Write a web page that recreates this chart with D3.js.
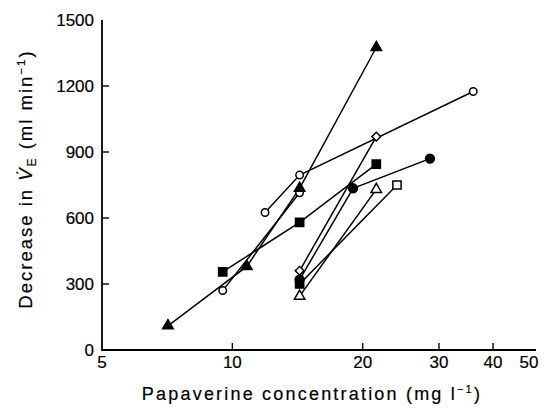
<!DOCTYPE html>
<html>
<head>
<meta charset="utf-8">
<script src="https://cdn.jsdelivr.net/npm/d3@7"></script>
<style>
  body { margin: 0; background: #fff; }
  svg { display: block; font-family: "Liberation Sans", Arial, sans-serif; }
  text { fill: #000; stroke: #000; stroke-width: 0.2; }
</style>
</head>
<body>
<div id="chart"></div>
<script>
// papaverine concentration (mg/l) vs decrease in VE (ml/min), one line per subject
const xTicks = [10, 20, 30, 40];
const xLabels = [5, 10, 20, 30, 40, 50];
const yTicks = [0, 300, 600, 900, 1200, 1500];

const triFilledX = [7.1, 10.8, 14.3, 21.5];
const triFilledY = [110, 380, 735, 1375];
const circOpenAX = [9.5, 14.3];
const circOpenAY = [270, 715];
const circOpenBX = [11.9, 14.3, 36];
const circOpenBY = [625, 795, 1175];
const sqFilledX = [9.5, 14.3, 21.5];
const sqFilledY = [355, 580, 845];
const diamondX = [14.3, 21.5];
const diamondY = [360, 970];
const circFilledX = [14.3, 19, 28.6];
const circFilledY = [320, 735, 870];
const triOpenX = [14.3, 21.5];
const triOpenY = [245, 730];
const sqOpenX = [14.3, 24];
const sqOpenY = [300, 750];

// symbol, fill per subject
const series = [
  { x: sqOpenX, y: sqOpenY, sym: "square", filled: [true, false] },
  { x: triOpenX, y: triOpenY, sym: "triangle", filled: [false, false] },
  { x: circFilledX, y: circFilledY, sym: "circle", filled: [true, true, true] },
  { x: diamondX, y: diamondY, sym: "diamond", filled: [false, false] },
  { x: sqFilledX, y: sqFilledY, sym: "square", filled: [true, true, true] },
  { x: circOpenAX, y: circOpenAY, sym: "circle", filled: [false, false] },
  { x: circOpenBX, y: circOpenBY, sym: "circle", filled: [false, false, false] },
  { x: triFilledX, y: triFilledY, sym: "triangle", filled: [true, true, true, true] }
];

const W = 546, H = 411;
const svg = d3.select("#chart").append("svg")
  .attr("width", W).attr("height", H);

const x = d3.scaleLog().domain([5, 50]).range([102, 535]);
const y = d3.scaleLinear().domain([0, 1500]).range([350, 20]);

// axes
const ax = svg.append("g").attr("stroke", "#000");
ax.append("line").attr("x1", x(5)).attr("x2", x(5))
  .attr("y1", y(1500)).attr("y2", y(0)).attr("stroke-width", 1.8);
ax.append("line").attr("x1", x(5) - 1).attr("x2", x(50) + 1)
  .attr("y1", y(0)).attr("y2", y(0)).attr("stroke-width", 2);

ax.selectAll(".xt").data(xTicks).enter().append("line")
  .attr("x1", d => x(d)).attr("x2", d => x(d))
  .attr("y1", y(0)).attr("y2", y(0) - 7).attr("stroke-width", 1.4);
ax.selectAll(".yt").data(yTicks.filter(d => d > 0 && d < 1500)).enter().append("line")
  .attr("x1", x(5)).attr("x2", x(5) + 7)
  .attr("y1", d => y(d)).attr("y2", d => y(d)).attr("stroke-width", 1.4);

svg.selectAll(".xl").data(xLabels).enter().append("text")
  .attr("x", d => x(d) - (d === 50 ? 6 : 0)).attr("y", 368)
  .attr("text-anchor", "middle").attr("font-size", 17)
  .text(d => d);
svg.selectAll(".yl").data(yTicks).enter().append("text")
  .attr("x", 94).attr("y", d => y(d)).attr("dy", "0.36em")
  .attr("text-anchor", "end").attr("font-size", 17)
  .text(d => d);

// axis titles
const xt = svg.append("text").attr("x", 312).attr("y", 400)
  .attr("text-anchor", "middle").attr("font-size", 18).attr("letter-spacing", 2.2);
xt.append("tspan").text("Papaverine concentration (mg l");
xt.append("tspan").attr("font-size", 11).attr("dy", -7).text("\u22121");
xt.append("tspan").attr("dy", 7).text(")");

const yt = svg.append("text")
  .attr("transform", "translate(32,179) rotate(-90)")
  .attr("text-anchor", "middle").attr("font-size", 18.5).attr("letter-spacing", 2);
yt.append("tspan").text("Decrease in ");
yt.append("tspan").attr("font-style", "italic").text("V\u0307");
yt.append("tspan").attr("font-size", 12).attr("dy", 4).text("E");
yt.append("tspan").attr("dy", -4).text(" (ml min");
yt.append("tspan").attr("font-size", 11.5).attr("dy", -7).text("\u22121");
yt.append("tspan").attr("dy", 7).text(")");

// lines
const line = d3.line().x(d => x(d[0])).y(d => y(d[1]));
series.forEach(s => {
  const pts = s.x.map((v, i) => [v, s.y[i]]);
  svg.append("path").datum(pts).attr("d", line)
    .attr("fill", "none").attr("stroke", "#000").attr("stroke-width", 1.5);
});

// markers
const symType = { circle: d3.symbolCircle, square: d3.symbolSquare, triangle: d3.symbolTriangle, diamond: d3.symbolSquare };
const symSize = { circle: 44, square: 68, triangle: 48, diamond: 38 };
series.forEach(s => {
  s.x.forEach((v, i) => {
    let size = symSize[s.sym];
    if (s.sym === "circle" && s.filled[i]) size = 62;
    svg.append("path")
      .attr("d", d3.symbol().type(symType[s.sym]).size(size)())
      .attr("transform", "translate(" + x(v) + "," + y(s.y[i]) + ")" + (s.sym === "diamond" ? " rotate(45)" : ""))
      .attr("fill", s.filled[i] ? "#000" : "#fff")
      .attr("stroke", "#000").attr("stroke-width", 1.5);
  });
});
</script>
</body>
</html>
